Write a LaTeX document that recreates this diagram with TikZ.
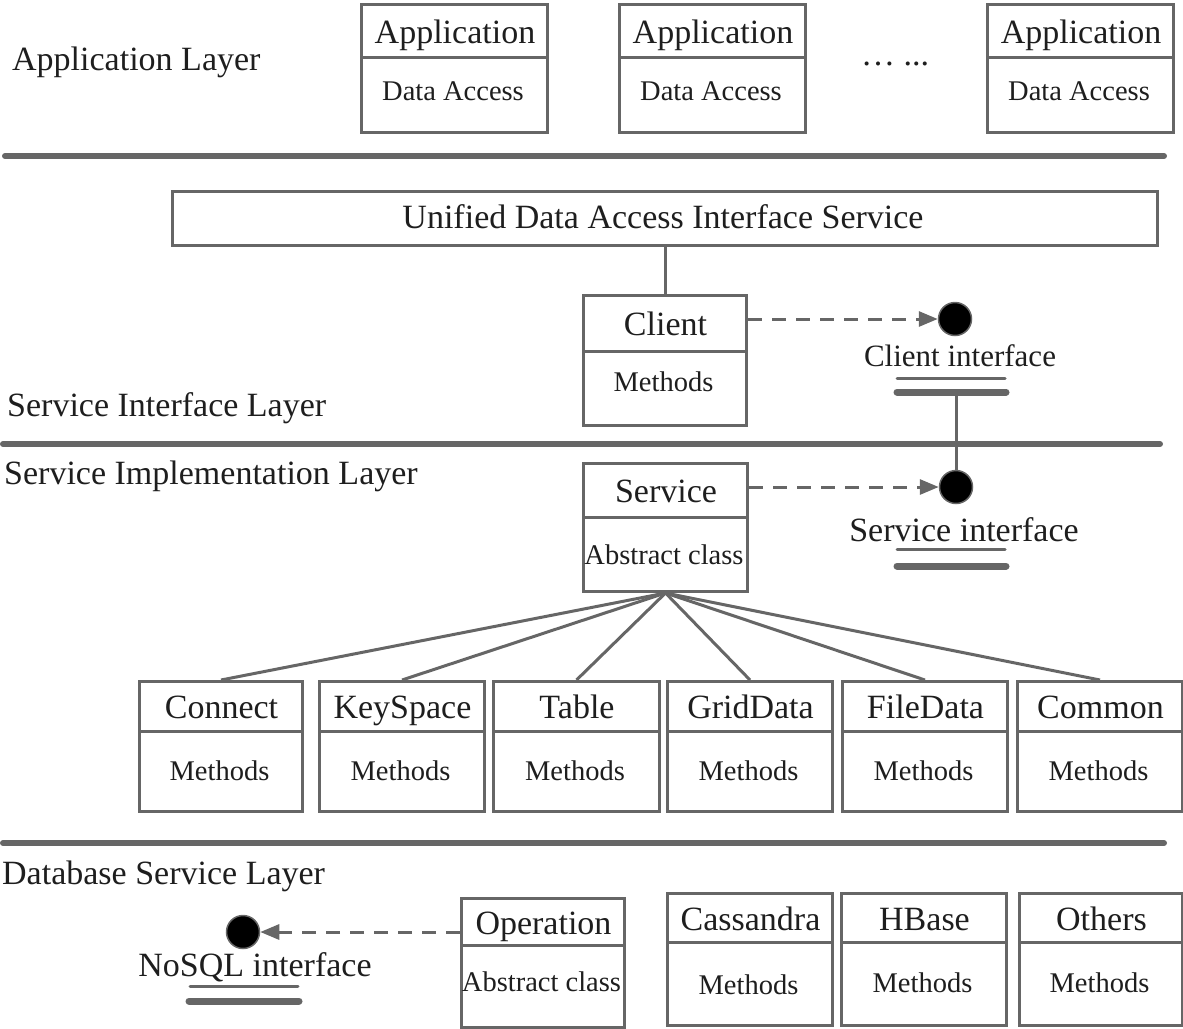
\documentclass[tikz,border=0pt]{standalone}
\usepackage{fontspec}
\setmainfont{Liberation Serif}
\usetikzlibrary{arrows.meta}
\definecolor{lg}{HTML}{666666}
\definecolor{tx}{HTML}{1E1E1E}
\tikzset{
  ln/.style={draw=lg, line width=3pt},
  ubox/.style={draw=lg, line width=3pt, rectangle, inner sep=0pt, anchor=north west},
  big/.style={text=tx, font=\fontsize{34}{40}\selectfont, inner sep=0pt},
  small/.style={text=tx, font=\fontsize{28.5}{34}\selectfont, inner sep=0pt},
  sep/.style={draw=lg, line width=6pt, line cap=round},
  thinul/.style={draw=lg, line width=3pt, line cap=round},
  thickul/.style={draw=lg, line width=7pt, line cap=round},
  dot/.style={circle, fill=black, draw=lg, line width=1.5pt, minimum size=33pt, inner sep=0pt},
  dasharrow/.style={draw=lg, line width=3pt, dash pattern=on 14pt off 10pt, -{Triangle[length=19pt,width=15pt,fill=lg]}},
}
% name, x1, y1, x2, y2, ydiv, title, body, body visual centre y
\newcommand\umlb[9]{%
  \node[ubox, minimum width={(#4-#2)*1pt}, minimum height={(#5-#3)*1pt}] (#1) at (#2,#3) {};
  \draw[ln] (#1.west |- 0,#6) -- (#1.east |- 0,#6);
  \node[big, anchor=base] (#1-t) at ({(#2+#4)/2+2},{(#3+#6)/2+13}) {#7};
  \node[small, anchor=base] (#1-b) at ({(#2+#4)/2},{#9+9.5}) {#8};
}
\begin{document}
\begin{tikzpicture}[x=1pt,y=-1pt]
\useasboundingbox (0,0) rectangle (1183,1028);

% layer labels
\node[big, anchor=base west] (l1) at (12,70) {Application Layer};
\node[big, anchor=base west] (l2) at (7,416) {Service Interface Layer};
\node[big, anchor=base west] (l3) at (4,484) {Service Implementation Layer};
\node[big, anchor=base west] (l4) at (2,884) {Database Service Layer};

% separators
\draw[sep] (5,156) -- (1164,156);
\draw[sep] (3,444) -- (1160,444);
\draw[sep] (3,843) -- (1164,843);

% application layer
\umlb{app1}{360}{3}{546}{131}{57}{Application}{Data Access}{91}
\umlb{app2}{618}{3}{804}{131}{57}{Application}{Data Access}{91}
\umlb{app3}{986}{3}{1172}{131}{57}{Application}{Data Access}{91}
\node[big] (dots) at (895,64) {… ...};

% service interface layer
\node[ubox, minimum width=985pt, minimum height=54pt] (uni) at (171,190) {};
\node[big, anchor=base] (uni-t) at (663,228) {Unified Data Access Interface Service};
\umlb{client}{582}{294}{745}{424}{351}{Client}{Methods}{382}
\draw[ln] (uni.south -| client.north) -- (client.north);
\node[dot] (ci) at (955,319) {};
\draw[dasharrow] (client.east |- ci) -- (ci);
\node[text=tx, font=\fontsize{31}{36}\selectfont, inner sep=0pt, anchor=base] (ci-t) at (960,366) {Client interface};
\draw[thinul] (897,378) -- (1005,378);
\draw[thickul] (897,392) -- (1006,392);
\coordinate (ciu) at (956,392);

% service implementation layer
\umlb{service}{582}{462}{746}{590}{517}{Service}{Abstract class}{555}
\node[dot] (si) at (956,487) {};
\draw[ln] (ciu) -- (si);
\draw[dasharrow] (service.east |- si) -- (si);
\node[big, anchor=base] (si-t) at (964,541) {Service interface};
\draw[thinul] (897,549) -- (1005,549);
\draw[thickul] (897,566) -- (1006,566);

\umlb{connect}{138}{680}{301}{810}{731}{Connect}{Methods}{771}
\umlb{keyspace}{318}{680}{483}{810}{731}{KeySpace}{Methods}{771}
\umlb{table}{492}{680}{658}{810}{731}{Table}{Methods}{771}
\umlb{grid}{666}{680}{831}{810}{731}{GridData}{Methods}{771}
\umlb{file}{841}{680}{1006}{810}{731}{FileData}{Methods}{771}
\umlb{common}{1016}{680}{1181}{810}{731}{Common}{Methods}{771}
\foreach \n in {connect,keyspace,table,grid,file,common}
  \draw[ln] (service.south) -- (\n.north);

% database service layer
\umlb{op}{460}{897}{623}{1026}{945}{Operation}{Abstract class}{982}
\node[dot] (nq) at (243,932) {};
\draw[dasharrow] (op.west |- nq) -- (nq);
\node[big, anchor=base] (nq-t) at (255,976) {NoSQL interface};
\draw[thinul] (190,986) -- (298,986);
\draw[thickul] (189,1001) -- (299,1001);

\umlb{cass}{666}{892}{831}{1024}{942}{Cassandra}{Methods}{985}
\umlb{hbase}{840}{892}{1005}{1024}{942}{HBase}{Methods}{983}
\umlb{others}{1018}{892}{1181}{1024}{942}{Others}{Methods}{983}
\end{tikzpicture}
\end{document}
